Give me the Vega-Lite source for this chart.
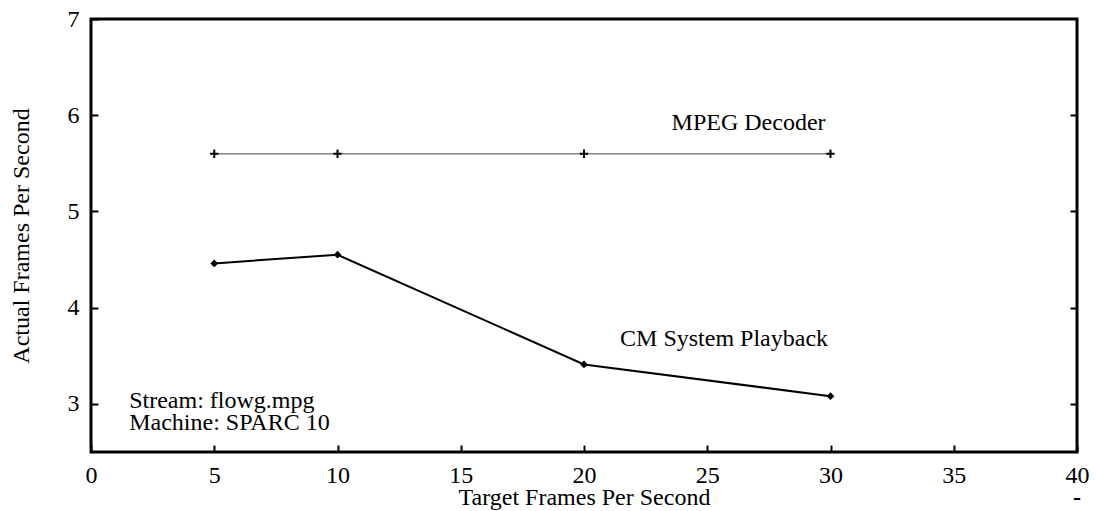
{
  "$schema": "https://vega.github.io/schema/vega-lite/v6.json",
  "width": 986,
  "height": 433,
  "autosize": {"type": "none"},
  "padding": {"left": 91, "top": 19, "right": 19, "bottom": 59},
  "config": {
    "font": "Liberation Serif",
    "view": {"stroke": "black", "strokeWidth": 3},
    "axis": {
      "domain": false,
      "grid": false,
      "tickColor": "black",
      "tickWidth": 2,
      "tickSize": -7,
      "labelColor": "black",
      "labelFontSize": 24,
      "labelFlush": false,
      "labelOverlap": false,
      "titleColor": "black",
      "titleFontSize": 24,
      "titleFontWeight": "normal"
    }
  },
  "datasets": {
    "mpeg": [
      {"target": 5, "actual": 5.6},
      {"target": 10, "actual": 5.6},
      {"target": 20, "actual": 5.6},
      {"target": 30, "actual": 5.6}
    ],
    "cm": [
      {"target": 5, "actual": 4.46},
      {"target": 10, "actual": 4.55},
      {"target": 20, "actual": 3.41},
      {"target": 30, "actual": 3.08}
    ],
    "curveLabels": [
      {"target": 29.8, "actual": 5.85, "text": "MPEG Decoder"},
      {"target": 29.9, "actual": 3.6, "text": "CM System Playback"}
    ],
    "notes": [
      {"target": 1.55, "actual": 2.955, "text": "Stream: flowg.mpg"},
      {"target": 1.55, "actual": 2.73, "text": "Machine: SPARC 10"}
    ],
    "dash": [
      {"target": 40, "actual": 2.02, "text": "-"}
    ]
  },
  "resolve": {"axis": {"y": "independent"}},
  "layer": [
    {
      "data": {"name": "mpeg"},
      "mark": {"type": "line", "color": "#808080", "strokeWidth": 1.6},
      "encoding": {
        "x": {
          "field": "target",
          "type": "quantitative",
          "scale": {"domain": [0, 40], "nice": false, "zero": false},
          "axis": {
            "values": [0, 5, 10, 15, 20, 25, 30, 35, 40],
            "labelPadding": 18,
            "title": "Target Frames Per Second",
            "titleBaseline": "alphabetic",
            "titleY": 52
          }
        },
        "y": {
          "field": "actual",
          "type": "quantitative",
          "scale": {"domain": [2.5, 7], "nice": false, "zero": false},
          "axis": {
            "orient": "left",
            "values": [3, 4, 5, 6, 7],
            "labelPadding": 19,
            "title": "Actual Frames Per Second",
            "titlePadding": 34
          }
        }
      }
    },
    {
      "data": {"name": "mpeg"},
      "mark": {
        "type": "point",
        "shape": "M-1,0H1M0,-1V1",
        "size": 70,
        "filled": false,
        "stroke": "black",
        "strokeWidth": 2,
        "opacity": 1
      },
      "encoding": {
        "x": {"field": "target", "type": "quantitative"},
        "y": {"field": "actual", "type": "quantitative", "axis": null}
      }
    },
    {
      "data": {"name": "cm"},
      "mark": {"type": "line", "color": "black", "strokeWidth": 2},
      "encoding": {
        "x": {"field": "target", "type": "quantitative"},
        "y": {
          "field": "actual",
          "type": "quantitative",
          "axis": {
            "orient": "right",
            "values": [3, 4, 5, 6],
            "labels": false,
            "title": null
          }
        }
      }
    },
    {
      "data": {"name": "cm"},
      "mark": {"type": "point", "shape": "diamond", "size": 60, "filled": true, "color": "black", "opacity": 1},
      "encoding": {
        "x": {"field": "target", "type": "quantitative"},
        "y": {"field": "actual", "type": "quantitative", "axis": null}
      }
    },
    {
      "data": {"name": "curveLabels"},
      "mark": {"type": "text", "fontSize": 24, "color": "black", "baseline": "alphabetic", "align": "right"},
      "encoding": {
        "x": {"field": "target", "type": "quantitative"},
        "y": {"field": "actual", "type": "quantitative", "axis": null},
        "text": {"field": "text"}
      }
    },
    {
      "data": {"name": "notes"},
      "mark": {"type": "text", "fontSize": 24, "color": "black", "baseline": "alphabetic", "align": "left"},
      "encoding": {
        "x": {"field": "target", "type": "quantitative"},
        "y": {"field": "actual", "type": "quantitative", "axis": null},
        "text": {"field": "text"}
      }
    },
    {
      "data": {"name": "dash"},
      "mark": {"type": "text", "fontSize": 24, "fontWeight": "bold", "color": "black", "baseline": "middle", "align": "center"},
      "encoding": {
        "x": {"field": "target", "type": "quantitative"},
        "y": {"field": "actual", "type": "quantitative", "axis": null},
        "text": {"field": "text"}
      }
    }
  ]
}
